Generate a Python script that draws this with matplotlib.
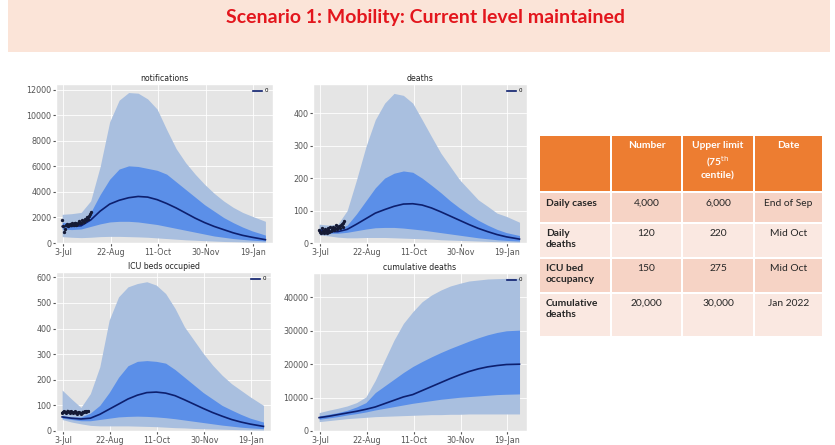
import matplotlib
matplotlib.use("Agg")
import matplotlib.pyplot as plt
from matplotlib.patches import Rectangle

# ---------------- data ----------------
days = [-1, 9, 19, 29, 39, 49, 59, 69, 79, 89, 99, 109, 119, 129, 139, 149, 159, 169, 179, 189, 199, 213]
tick_days = [0, 50, 100, 150, 200]
tick_labels = ['3-Jul', '22-Aug', '11-Oct', '30-Nov', '19-Jan']

# notifications
notif_lo95 = [500, 450, 420, 450, 500, 520, 520, 500, 480, 450, 400, 350, 300, 250, 220, 180, 150, 120, 100, 80, 60, 45]
notif_lo50 = [1100, 1050, 1100, 1300, 1500, 1650, 1700, 1700, 1650, 1550, 1450, 1300, 1150, 1000, 850, 700, 550, 450, 350, 280, 220, 160]
notif_med = [1300, 1300, 1350, 1800, 2500, 3050, 3350, 3550, 3650, 3600, 3400, 3100, 2750, 2350, 1950, 1600, 1300, 1050, 800, 600, 450, 260]
notif_hi50 = [1600, 1600, 1700, 2400, 3800, 5000, 5800, 6050, 6000, 5850, 5700, 5400, 4800, 4200, 3600, 3000, 2500, 2000, 1600, 1250, 950, 620]
notif_hi95 = [2250, 2300, 2400, 3300, 6000, 9500, 11200, 11800, 11750, 11300, 10500, 8900, 7400, 6300, 5400, 4600, 3900, 3300, 2800, 2400, 2100, 1700]
notif_obs_days = list(range(-1, 30))
notif_obs = [1800, 1300, 900, 1100, 1400, 1500, 1300, 1450, 1500, 1400, 1550, 1500, 1400, 1600, 1550, 1450,
             1500, 1600, 1700, 1550, 1600, 1800, 1700, 1650, 1900, 1800, 2000, 1900, 2100, 2300, 2400]

# deaths
deaths_lo95 = [25, 22, 18, 16, 16, 17, 17, 17, 16, 15, 14, 13, 12, 10, 9, 8, 7, 6, 5, 4, 3, 2]
deaths_lo50 = [33, 30, 30, 33, 38, 43, 47, 48, 48, 46, 43, 40, 36, 32, 28, 24, 20, 16, 13, 10, 8, 6]
deaths_med = [38, 35, 35, 42, 58, 75, 92, 103, 113, 120, 121, 117, 108, 96, 83, 70, 57, 45, 35, 26, 19, 12]
deaths_hi50 = [45, 42, 42, 55, 90, 130, 170, 200, 215, 222, 218, 200, 178, 155, 130, 108, 88, 70, 55, 42, 32, 23]
deaths_hi95 = [58, 55, 58, 100, 195, 297, 380, 431, 461, 455, 431, 380, 328, 277, 236, 195, 164, 133, 113, 92, 82, 64]
deaths_obs_days = list(range(-1, 27))
deaths_obs = [40, 35, 30, 45, 38, 32, 42, 36, 30, 45, 40, 35, 48, 38, 42, 50, 40, 45, 55, 42, 48, 52, 45, 55, 60, 50, 62, 68]

# ICU beds occupied
icu_lo95 = [45, 35, 28, 22, 20, 20, 20, 20, 19, 18, 17, 15, 13, 12, 10, 9, 8, 7, 6, 5, 4, 3]
icu_lo50 = [50, 45, 40, 40, 45, 50, 55, 57, 58, 57, 55, 52, 48, 43, 38, 33, 28, 23, 19, 15, 12, 9]
icu_med = [55, 50, 47, 50, 65, 85, 105, 125, 140, 150, 152, 148, 138, 122, 105, 88, 72, 58, 45, 35, 27, 18]
icu_hi50 = [60, 55, 55, 70, 100, 150, 210, 255, 272, 275, 272, 265, 240, 210, 180, 150, 125, 100, 82, 65, 50, 35]
icu_hi95 = [160, 125, 92, 146, 250, 433, 524, 563, 576, 583, 570, 537, 479, 407, 355, 303, 257, 218, 185, 159, 133, 100]
icu_obs_days = list(range(-1, 28))
icu_obs = [72, 75, 78, 74, 70, 76, 80, 75, 72, 78, 76, 73, 70, 74, 77, 72, 68, 73, 75, 71, 66, 72, 76, 74, 78, 76, 79, 77, 78]

# cumulative deaths
cum_lo95 = [2800, 3100, 3400, 3700, 3900, 4100, 4300, 4400, 4500, 4600, 4700, 4800, 4900, 4900, 5000, 5000, 5100, 5100, 5100, 5100, 5100, 5100]
cum_lo50 = [3500, 3900, 4300, 4800, 5200, 5700, 6300, 6800, 7300, 7800, 8300, 8700, 9100, 9500, 9800, 10100, 10300, 10500, 10700, 10900, 11000, 11100]
cum_med = [4000, 4400, 4900, 5400, 5900, 6500, 7200, 8200, 9200, 10200, 10900, 12100, 13300, 14500, 15700, 16800, 17800, 18600, 19200, 19600, 19900, 20000]
cum_hi50 = [4500, 5000, 5500, 6200, 7200, 8500, 11500, 13500, 15500, 17500, 19300, 20800, 22200, 23500, 24700, 25800, 26900, 27900, 28800, 29500, 30000, 30200]
cum_hi95 = [5500, 6200, 6800, 7500, 8500, 10200, 15200, 21200, 27200, 32200, 35700, 38700, 40700, 42200, 43400, 44200, 44900, 45200, 45500, 45600, 45700, 45700]

# table
table_header = ['', 'Number', 'Upper limit\n(75$^{\\mathrm{th}}$\ncentile)', 'Date']
row_labels = ['Daily cases', 'Daily\ndeaths', 'ICU bed\noccupancy', 'Cumulative\ndeaths']
col_number = ['4,000', '120', '150', '20,000']
col_upper = ['6,000', '220', '275', '30,000']
col_date = ['End of Sep', 'Mid Oct', 'Mid Oct', 'Jan 2022']

title_text = 'Scenario 1: Mobility: Current level maintained'

# ---------------- style ----------------
plt.style.use('ggplot')
W, H = 835, 445
fig = plt.figure(figsize=(W / 100, H / 100), dpi=100)
fig.patch.set_facecolor('white')

LIGHT = '#a9bfdf'
DARK = '#5b8fe8'
LINE = '#0d1f6e'
OBS = '#151a35'


def rect(x0, y0, x1, y1):
    return [x0 / W, 1 - y1 / H, (x1 - x0) / W, (y1 - y0) / H]


def panel(r, title, lo95, lo50, med, hi50, hi95, ylim, yticks, obs_d=None, obs=None, obs_line=False):
    ax = fig.add_axes(rect(*r))
    ax.fill_between(days, lo95, hi95, color=LIGHT, lw=0, zorder=2)
    ax.fill_between(days, lo50, hi50, color=DARK, lw=0, zorder=3)
    ax.plot(days, med, color=LINE, lw=1.2, zorder=4, label='0')
    if obs is not None:
        if obs_line:
            ax.plot(obs_d, obs, color=OBS, lw=1.3, marker='.', ms=2.5, zorder=5)
        else:
            ax.plot(obs_d, obs, ls='none', color=OBS, marker='.', ms=2.8, zorder=5)
    ax.set_xlim(-7.5, 221)
    ax.set_ylim(*ylim)
    ax.set_xticks(tick_days)
    ax.set_xticklabels(tick_labels)
    ax.set_yticks(yticks)
    ax.tick_params(labelsize=5.8, length=2, pad=1.5, colors='#555555')
    ax.set_title(title, fontsize=5.6, pad=2.5, color='#222222')
    ax.grid(True, color='white', lw=0.6)
    ax.legend(loc='upper right', fontsize=4, frameon=False, handlelength=1.6,
              borderaxespad=0.4, handletextpad=0.5)
    return ax


panel((56, 84, 273, 243), 'notifications', notif_lo95, notif_lo50, notif_med, notif_hi50, notif_hi95,
      (0, 12470), [0, 2000, 4000, 6000, 8000, 10000, 12000], notif_obs_days, notif_obs)
panel((313, 84, 527, 243), 'deaths', deaths_lo95, deaths_lo50, deaths_med, deaths_hi50, deaths_hi95,
      (0, 490), [0, 100, 200, 300, 400], deaths_obs_days, deaths_obs)
panel((56, 272, 271, 431), 'ICU beds occupied', icu_lo95, icu_lo50, icu_med, icu_hi50, icu_hi95,
      (0, 621), [0, 100, 200, 300, 400, 500, 600], icu_obs_days, icu_obs, obs_line=True)
panel((313, 273, 527, 431), 'cumulative deaths', cum_lo95, cum_lo50, cum_med, cum_hi50, cum_hi95,
      (0, 47300), [0, 10000, 20000, 30000, 40000])

# ---------------- overlay: banner + table ----------------
ov = fig.add_axes([0, 0, 1, 1], zorder=10)
ov.set_xlim(0, W)
ov.set_ylim(H, 0)
ov.axis('off')
ov.patch.set_alpha(0)

ov.add_patch(Rectangle((8, 0), 822, 52, facecolor='#fbe4d8', edgecolor='none'))
ov.text(426, 17, title_text, ha='center', va='center', color='#e3161d', fontsize=14,
        fontweight='bold', family='Lato')

col_x = [539, 611, 682, 754, 823]
row_y = [136, 192, 223, 258, 293, 337]
row_colors = ['#f6d3c5', '#fae8e1', '#f6d3c5', '#fae8e1']
GAP = 1.0

# header cells
for c in range(4):
    ov.add_patch(Rectangle((col_x[c] + GAP, row_y[0]), col_x[c + 1] - col_x[c] - 2 * GAP,
                           row_y[1] - row_y[0] - GAP, facecolor='#ed7d31', edgecolor='none'))
    if table_header[c]:
        ov.text((col_x[c] + col_x[c + 1]) / 2, row_y[0] + 5, table_header[c], ha='center', va='top',
                color='white', fontsize=7.4, fontweight='bold', family='Lato', linespacing=1.35)

cols = [row_labels, col_number, col_upper, col_date]
for r in range(4):
    for c in range(4):
        ov.add_patch(Rectangle((col_x[c] + GAP, row_y[r + 1] + GAP), col_x[c + 1] - col_x[c] - 2 * GAP,
                               row_y[r + 2] - row_y[r + 1] - 2 * GAP, facecolor=row_colors[r], edgecolor='none'))
        txt = cols[c][r]
        ty = row_y[r + 1] + (6 if r > 0 else 7)
        if c == 0:
            ov.text(col_x[0] + 7, ty, txt, ha='left', va='top', color='#262626', fontsize=7.4,
                    fontweight='bold', family='Lato', linespacing=1.3)
        else:
            ov.text((col_x[c] + col_x[c + 1]) / 2, ty, txt, ha='center', va='top', color='#262626',
                    fontsize=7.4, family='Lato')

fig.savefig('out.png', dpi=100, facecolor='white')
